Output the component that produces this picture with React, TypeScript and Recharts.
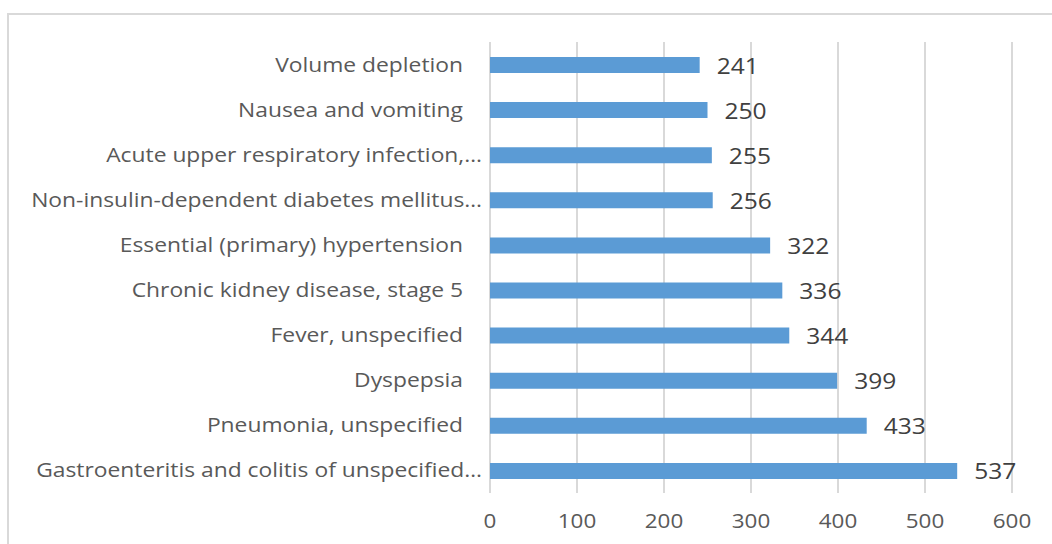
import React from "react";
import {
  BarChart,
  Bar,
  XAxis,
  YAxis,
  CartesianGrid,
  LabelList,
} from "recharts";

const categories = [
  "Volume depletion",
  "Nausea and vomiting",
  "Acute upper respiratory infection,…",
  "Non-insulin-dependent diabetes mellitus…",
  "Essential (primary) hypertension",
  "Chronic kidney disease, stage 5",
  "Fever, unspecified",
  "Dyspepsia",
  "Pneumonia, unspecified",
  "Gastroenteritis and colitis of unspecified…",
];

const counts = [241, 250, 255, 256, 322, 336, 344, 399, 433, 537];

const xTicks = [0, 100, 200, 300, 400, 500, 600];

const FONT = "'Open Sans', sans-serif";
// the original text is drawn a little wide
const STRETCH = 1.17;

const data = categories.map((name, i) => ({ name, value: counts[i] }));

// truncated labels sit closer to the axis than the full ones
function CategoryTick(props: any) {
  const { x, y, payload } = props;
  const text: string = payload.value;
  const shift = text.endsWith("…") ? 0 : 19;
  return (
    <text
      transform={`translate(${x - shift} ${y}) scale(${STRETCH} 1)`}
      dy="0.36em"
      textAnchor="end"
      fill="#595959"
      fontSize={19.5}
      fontFamily={FONT}
    >
      {text}
    </text>
  );
}

function ValueTick(props: any) {
  const { x, y, payload } = props;
  return (
    <text
      transform={`translate(${x} ${y}) scale(1.15 1)`}
      dy="0.71em"
      textAnchor="middle"
      fill="#595959"
      fontSize={19.5}
      fontFamily={FONT}
    >
      {payload.value}
    </text>
  );
}

function BarValue(props: any) {
  const { x, y, width, height, value } = props;
  return (
    <text
      transform={`translate(${x + width + 17} ${y + height / 2 + 1}) scale(${STRETCH} 1)`}
      dy="0.36em"
      textAnchor="start"
      fill="#404040"
      fontSize={21}
      fontFamily={FONT}
    >
      {value}
    </text>
  );
}

export default function App() {
  return (
    <div
      style={{
        position: "absolute",
        left: 0,
        top: 0,
        width: 1052,
        height: 544,
        overflow: "hidden",
        background: "#fff",
      }}
    >
      <div
        style={{
          position: "absolute",
          left: 7,
          top: 13,
          width: 1200,
          height: 700,
          border: "2px solid #d9d9d9",
        }}
      />
      <div style={{ position: "absolute", left: 0, top: 0 }}>
        <BarChart
          width={1052}
          height={544}
          data={data}
          layout="vertical"
          margin={{ top: 42, right: 40, bottom: 11, left: 0 }}
          barCategoryGap={0}
        >
          <CartesianGrid horizontal={false} stroke="#d9d9d9" strokeWidth={2} />
          <XAxis
            type="number"
            domain={[0, 600]}
            ticks={xTicks}
            axisLine={false}
            tickLine={false}
            tickSize={0}
            tickMargin={21}
            height={40}
            interval={0}
            tick={<ValueTick />}
          />
          <YAxis
            type="category"
            dataKey="name"
            width={490}
            axisLine={false}
            tickLine={false}
            interval={0}
            tick={<CategoryTick />}
          />
          <Bar dataKey="value" fill="#5b9bd5" barSize={16} isAnimationActive={false}>
            <LabelList dataKey="value" content={<BarValue />} />
          </Bar>
        </BarChart>
      </div>
    </div>
  );
}
